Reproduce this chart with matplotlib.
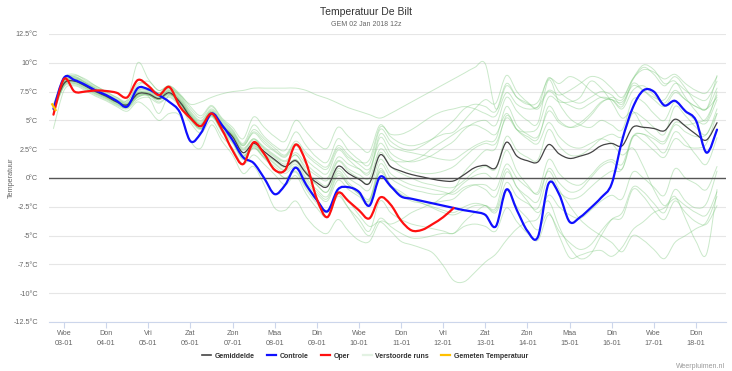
import numpy as np
import matplotlib
matplotlib.use("Agg")
import matplotlib.pyplot as plt
from matplotlib.lines import Line2D
from matplotlib.path import Path
from matplotlib.patches import PathPatch

plt.rcParams['font.family'] = ['Liberation Sans', 'DejaVu Sans']

# tijdas: dagen vanaf 03-01 00z, stappen van 6 uur (02-01 18z t/m 18-01 12z)
tijd = np.arange(-0.25, 15.51, 0.25)

dag_namen = ['Woe', 'Don', 'Vri', 'Zat', 'Zon', 'Maa', 'Din', 'Woe',
             'Don', 'Vri', 'Zat', 'Zon', 'Maa', 'Din', 'Woe', 'Don']
datums = ['03-01', '04-01', '05-01', '06-01', '07-01', '08-01', '09-01', '10-01',
          '11-01', '12-01', '13-01', '14-01', '15-01', '16-01', '17-01', '18-01']

gemiddelde = [6.0, 8.2, 8.4, 8.0, 7.5, 7.1, 6.6, 6.35, 7.3, 7.3, 6.9, 7.4, 6.6, 5.3, 4.5, 5.6,
              4.5, 3.6, 2.2, 3.0, 2.3, 1.6, 1.0, 1.5, 0.4, -0.4, -0.75, 1.0, 0.4, -0.1, -0.45, 2.0,
              1.0, 0.6, 0.3, 0.1, -0.1, -0.25, -0.25, 0.3, 0.9, 1.1, 0.9, 3.1, 1.9, 1.5, 1.4, 2.9,
              2.1, 1.7, 1.9, 2.2, 2.8, 3.0, 2.8, 4.4, 4.4, 4.3, 4.1, 5.1, 4.5, 3.8, 3.3, 4.8]

controle = [6.0, 8.7, 8.5, 8.1, 7.6, 7.2, 6.7, 6.2, 7.8, 7.7, 7.2, 6.6, 5.7, 3.2, 3.9, 5.6,
            4.6, 3.3, 1.8, 1.3, 0.0, -1.4, -0.6, 0.9, -0.6, -1.9, -2.9, -1.0, -0.8, -1.2, -2.4, 0.1,
            -0.7, -1.6, -1.8, -2.0, -2.2, -2.4, -2.6, -2.8, -2.95, -3.2, -4.2, -1.0, -2.8, -4.6, -5.1, -0.5,
            -1.4, -3.8, -3.4, -2.6, -1.7, -0.5, 3.3, 6.1, 7.6, 7.5, 6.3, 6.7, 5.8, 5.0, 2.2, 4.2]

oper = [5.5, 8.6, 7.5, 7.5, 7.6, 7.55, 7.4, 7.0, 8.5, 8.0, 7.2, 7.9, 6.2, 5.2, 4.5, 5.6,
        4.2, 2.4, 1.2, 3.1, 2.1, 0.7, 0.7, 2.9, 1.3, -1.8, -3.4, -1.3, -2.0, -2.8, -3.5, -1.7,
        -2.3, -3.7, -4.55, -4.5, -4.0, -3.4, -2.6] + [np.nan] * 25

gemeten_tijd = [-0.28, -0.2]
gemeten = [6.4, 5.9]

# verstoorde runs (ensembleleden)
leden = [
    [6.2, 8.5, 8.7, 8.3, 7.8, 7.3, 6.8, 6.5, 7.6, 7.8, 7.4, 7.8, 7.2, 6.4, 6.6, 7.0,
     7.3, 7.5, 7.6, 7.8, 7.8, 7.8, 7.8, 7.8, 7.6, 7.2, 6.9, 6.5, 6.1, 5.8, 5.5, 5.2,
     5.6, 6.1, 6.6, 7.1, 7.6, 8.1, 8.6, 9.1, 9.6, 9.9, 6.0, 8.0, 7.0, 6.5, 6.0, 7.5,
     6.8, 6.3, 6.0, 6.5, 7.0, 6.8, 6.0, 7.6, 8.0, 7.2, 6.5, 7.6, 6.8, 6.2, 6.0, 7.0],
    [5.8, 8.0, 8.2, 7.8, 7.3, 6.9, 6.4, 6.1, 7.0, 7.2, 6.6, 7.1, 6.3, 5.0, 4.2, 5.3,
     4.0, 3.0, 1.6, 2.6, 1.8, 0.8, 0.0, 0.6, -0.8, -2.0, -2.8, -1.2, -2.0, -3.2, -4.2, -3.8,
     -4.6, -5.5, -5.8, -6.1, -6.5, -7.6, -8.9, -9.0, -8.2, -7.3, -6.6, -5.4, -4.4, -3.8, -3.5, -1.5,
     -2.5, -3.2, -3.5, -2.8, -2.0, -1.5, -1.8, 0.5, 0.0, -0.8, -1.5, 0.8, 0.0, -0.5, -1.0, 1.0],
    [6.1, 8.3, 8.6, 8.2, 7.7, 7.2, 6.7, 6.4, 7.4, 7.4, 7.0, 7.6, 6.8, 5.5, 4.7, 5.8,
     4.7, 3.8, 2.5, 3.4, 2.5, 1.8, 1.2, 2.0, 0.6, -0.6, -1.2, 0.6, -0.4, -1.2, -1.8, 0.5,
     -0.8, -1.5, -2.0, -2.2, -2.5, -2.8, -3.0, -2.5, -2.2, -2.4, -3.0, -1.0, -2.5, -3.5, -4.5, -3.0,
     -5.0, -6.9, -6.7, -6.4, -6.3, -6.8, -6.0, -4.5, -3.8, -3.0, -2.6, -1.8, -2.4, -3.0, -3.2, -1.2],
    [6.3, 8.6, 8.9, 8.6, 8.0, 7.5, 7.0, 6.8, 10.0, 8.6, 7.6, 8.0, 7.3, 6.2, 5.4, 6.3,
     5.2, 4.4, 3.4, 5.3, 4.4, 3.6, 3.2, 5.0, 4.0, 3.0, 2.6, 4.4, 3.6, 2.8, 2.3, 4.6,
     3.6, 3.0, 2.8, 3.0, 3.4, 3.8, 4.0, 5.0, 6.0, 6.8, 6.5, 8.9, 7.5, 6.6, 6.2, 8.7,
     7.5, 6.8, 6.5, 7.0, 7.5, 7.2, 6.4, 8.5, 9.6, 9.0, 8.0, 8.8, 7.8, 6.5, 6.0, 8.9],
    [5.6, 7.9, 8.1, 7.7, 7.2, 6.8, 6.3, 6.0, 6.8, 7.0, 6.5, 7.0, 6.2, 4.8, 3.9, 5.0,
     3.6, 2.6, 1.2, 2.0, 1.2, 0.3, -0.6, 0.2, -1.4, -2.6, -3.4, -1.6, -2.6, -3.6, -4.6, -2.0,
     -3.0, -3.6, -4.0, -4.2, -4.4, -4.6, -4.8, -3.8, -3.0, -2.4, -2.6, 0.5, -0.8, -1.6, -2.0, 0.8,
     -0.4, -1.2, -1.0, 0.0, 1.0, 1.4, 0.8, 3.5, 3.8, 3.0, 2.2, 4.0, 3.2, 2.0, 1.2, 3.5],
    [6.0, 8.3, 8.6, 8.2, 7.6, 7.2, 6.7, 6.4, 7.6, 7.6, 7.1, 7.7, 6.9, 5.6, 4.8, 5.8,
     4.8, 3.9, 2.8, 3.9, 3.0, 2.3, 1.8, 2.8, 1.6, 0.8, 0.4, 2.4, 1.6, 0.8, 0.4, 3.5,
     2.2, 1.6, 1.4, 1.6, 2.0, 2.6, 3.2, 4.2, 4.8, 5.0, 4.6, 7.0, 5.8, 5.0, 4.8, 8.5,
     6.5, 5.2, 4.6, 4.4, 5.0, 4.6, 4.2, 6.8, 6.6, 5.6, 5.0, 6.6, 5.8, 5.0, 4.8, 6.8],
    [5.9, 8.1, 8.3, 7.9, 7.4, 7.0, 6.5, 6.2, 7.2, 7.2, 6.8, 7.3, 6.5, 5.2, 4.3, 5.4,
     4.2, 3.2, 1.8, 2.7, 1.8, 1.0, 0.4, 1.0, -0.4, -1.4, -2.0, -0.2, -1.0, -1.6, -2.2, 0.6,
     -0.6, -1.4, -1.8, -2.0, -2.2, -1.6, -1.0, 0.5, 1.5, 2.4, 2.6, 5.4, 4.2, 3.6, 3.4, 6.2,
     5.0, 4.4, 4.6, 5.4, 6.5, 7.0, 6.8, 8.6, 9.8, 9.4, 8.2, 8.4, 7.0, 5.8, 5.0, 7.5],
    [6.2, 8.4, 8.7, 8.3, 7.8, 7.3, 6.8, 6.5, 7.4, 7.5, 7.1, 7.5, 6.7, 5.4, 4.6, 5.7,
     4.6, 3.7, 2.4, 3.3, 2.6, 1.9, 1.4, 2.0, 0.9, 0.2, -0.2, 1.5, 0.8, 0.3, 0.0, 2.5,
     1.6, 1.4, 1.5, 1.9, 2.6, 3.2, 3.8, 4.4, 4.6, 4.2, 3.8, 5.6, 4.2, 3.4, 3.0, 4.8,
     3.6, 2.8, 2.6, 3.0, 3.4, 3.0, 2.0, 2.6, 1.0, -1.0, -2.4, -1.6, -3.5, -5.5, -6.6, -1.0],
    [5.7, 8.0, 8.2, 7.8, 7.3, 6.9, 6.4, 6.1, 7.0, 7.1, 5.6, 7.2, 6.4, 5.1, 4.3, 5.4,
     4.1, 3.1, 1.7, 2.6, 1.7, 0.8, 0.0, 0.5, -1.0, -2.2, -3.0, -1.4, -2.6, -4.0, -5.0, -3.5,
     -4.2, -4.8, -5.2, -5.2, -5.0, -4.8, -4.8, -4.2, -4.0, -4.2, -4.6, -2.6, -3.8, -4.8, -5.4, -3.2,
     -4.6, -5.6, -6.2, -5.8, -4.6, -3.6, -3.4, -1.0, -1.6, -2.8, -3.6, -2.0, -3.0, -3.8, -4.0, -2.4],
    [6.1, 8.4, 8.6, 8.1, 7.6, 7.1, 6.6, 6.3, 7.2, 7.4, 7.0, 7.6, 6.8, 5.5, 4.7, 5.7,
     4.6, 3.8, 2.6, 3.4, 2.7, 2.0, 1.5, 2.2, 1.2, 0.4, 0.0, 1.8, 1.2, 0.8, 0.6, 3.8,
     2.8, 2.4, 2.2, 2.0, 1.8, 1.6, 1.6, 2.2, 2.8, 3.2, 3.4, 6.2, 4.6, 3.8, 3.6, 5.8,
     4.8, 4.4, 4.8, 5.6, 6.6, 6.8, 6.2, 8.2, 7.6, 6.8, 6.2, 7.4, 6.8, 6.2, 6.0, 7.8],
    [5.9, 8.2, 8.5, 8.0, 7.5, 7.0, 6.6, 6.3, 7.1, 7.3, 6.8, 7.3, 6.5, 5.2, 4.4, 5.5,
     4.3, 3.3, 1.9, 2.8, 2.0, 1.2, 0.6, 1.2, -0.2, -1.2, -1.8, 0.2, -0.6, -1.4, -2.0, 0.8,
     -0.6, -1.2, -1.8, -2.2, -2.6, -3.0, -3.2, -2.8, -2.4, -2.4, -2.8, -0.4, -1.6, -2.2, -2.6, 0.0,
     -1.2, -1.8, -1.6, -0.8, 0.0, 0.6, 0.8, 3.6, 3.8, 3.4, 3.0, 4.6, 4.0, 3.6, 3.8, 5.6],
    [6.4, 8.7, 9.0, 8.5, 8.0, 7.5, 7.0, 6.7, 8.0, 8.4, 7.6, 8.0, 7.2, 6.0, 5.2, 6.2,
     5.1, 4.2, 3.0, 4.6, 3.6, 2.8, 2.4, 4.0, 2.8, 1.8, 1.4, 3.4, 2.4, 1.6, 1.2, 4.2,
     3.2, 2.6, 2.4, 2.8, 3.4, 4.2, 5.0, 6.0, 6.4, 6.2, 5.8, 8.2, 7.0, 6.4, 6.6, 8.6,
     8.2, 8.8, 8.4, 7.6, 7.0, 6.8, 6.6, 8.0, 7.6, 7.0, 6.8, 8.2, 7.6, 7.0, 6.8, 8.4],
    [4.3, 7.6, 8.0, 7.6, 7.1, 6.7, 6.2, 5.8, 6.6, 6.0, 5.0, 5.6, 5.4, 3.2, 2.6, 4.6,
     3.2, 2.0, 0.4, 1.0, -0.6, -2.6, -2.8, -2.0, -3.4, -4.4, -4.8, -3.6, -4.6, -5.4, -5.5, -3.8,
     -4.0, -3.6, -3.0, -2.6, -2.2, -2.0, -1.8, -1.0, -0.6, -0.6, -1.0, 1.2, 0.0, -0.8, -1.2, 1.6,
     0.4, -0.4, -0.6, 0.2, 1.2, 1.6, 1.2, 3.6, 3.2, 2.4, 1.8, 3.4, 2.8, 2.6, 3.0, 5.6],
    [6.0, 8.3, 8.5, 8.1, 7.6, 7.1, 6.7, 6.4, 7.3, 7.4, 6.9, 7.5, 6.7, 5.4, 4.6, 5.6,
     4.5, 3.6, 2.2, 3.1, 2.3, 1.5, 0.9, 1.6, 0.3, -0.6, -1.2, 0.8, 0.0, -0.6, -1.0, 1.6,
     0.4, -0.2, -0.6, -0.8, -1.0, -1.2, -1.4, -0.8, -0.6, -1.0, -1.6, 0.8, -0.8, -2.0, -3.0, -2.0,
     -4.2, -6.0, -7.0, -6.6, -5.0, -3.6, -3.0, -0.8, -1.2, -2.2, -3.0, -1.0, -2.0, -2.6, -2.2, 0.6],
    [6.1, 8.5, 8.8, 8.3, 7.7, 7.2, 6.7, 6.4, 7.5, 7.6, 7.2, 7.8, 7.0, 5.7, 4.9, 5.9,
     4.9, 4.0, 2.9, 4.2, 3.4, 2.6, 2.0, 3.2, 2.2, 1.4, 1.0, 2.8, 2.0, 1.2, 0.8, 3.0,
     1.8, 1.0, 0.6, 0.4, 0.4, 0.6, 1.0, 1.8, 2.6, 3.0, 3.0, 5.2, 4.2, 4.0, 4.4, 7.0,
     6.6, 6.6, 7.0, 8.4, 7.8, 6.6, 5.2, 5.8, 4.4, 3.6, 3.2, 4.8, 4.6, 4.8, 5.2, 7.2],
    [5.8, 8.1, 8.3, 7.9, 7.4, 7.0, 6.5, 6.2, 7.1, 7.2, 6.8, 7.3, 6.5, 5.1, 4.3, 5.4,
     4.2, 3.3, 1.9, 2.9, 2.1, 1.3, 0.7, 1.4, 0.0, -1.0, -1.6, 0.4, -0.6, -1.4, -1.9, 1.2,
     0.0, -0.6, -1.0, -1.2, -1.4, -1.4, -1.2, -0.4, 0.2, 0.4, 0.0, 2.4, 0.6, -0.6, -1.4, 0.6,
     -1.0, -2.4, -3.6, -4.4, -5.0, -5.6, -6.4, -5.0, -5.4, -6.2, -7.0, -5.6, -5.0, -4.4, -3.8, -1.6],
    [6.0, 8.2, 8.4, 8.0, 7.5, 7.1, 6.6, 6.3, 7.4, 7.2, 6.8, 7.2, 6.5, 5.3, 4.5, 5.5,
     4.4, 3.5, 2.0, 2.8, 2.1, 1.5, 1.0, 1.6, 0.5, -0.2, -0.6, 1.4, 0.6, 0.0, -0.4, 2.2,
     1.0, 0.4, 0.0, -0.4, -0.6, -0.8, -0.8, -0.2, 0.6, 1.0, 0.8, 3.6, 2.4, 1.8, 1.6, 4.2,
     2.8, 2.0, 2.0, 2.6, 3.4, 3.8, 3.6, 5.6, 5.2, 4.4, 3.8, 6.2, 5.4, 4.4, 3.8, 6.0],
    [6.2, 8.6, 8.8, 8.4, 7.9, 7.4, 6.9, 6.6, 8.2, 8.0, 7.4, 7.9, 7.1, 5.8, 5.0, 6.0,
     5.0, 4.1, 2.8, 4.0, 3.2, 2.4, 1.9, 3.0, 2.0, 1.2, 0.8, 2.6, 1.8, 1.4, 1.6, 4.4,
     3.8, 3.8, 4.2, 4.8, 5.4, 5.8, 6.0, 6.2, 6.0, 5.6, 5.4, 7.4, 6.4, 6.0, 6.2, 7.6,
     7.2, 7.6, 8.2, 8.8, 8.6, 7.8, 7.0, 8.6, 9.4, 9.2, 8.6, 9.0, 8.2, 7.6, 7.4, 8.8],
]


def spline(ax, x, y, **kw):
    # vloeiende lijn (zoals een Highcharts spline) door de meetpunten
    x = np.asarray(x, float)
    y = np.asarray(y, float)
    ok = ~np.isnan(y)
    x, y = x[ok], y[ok]
    pts = np.column_stack([x, y])
    n = len(pts)
    verts = [pts[0]]
    codes = [Path.MOVETO]
    for i in range(n - 1):
        p0 = pts[max(i - 1, 0)]
        p1 = pts[i]
        p2 = pts[i + 1]
        p3 = pts[min(i + 2, n - 1)]
        verts += [p1 + (p2 - p0) / 6.0, p2 - (p3 - p1) / 6.0, p2]
        codes += [Path.CURVE4] * 3
    ax.add_patch(PathPatch(Path(verts, codes), fill=False, capstyle='round',
                           joinstyle='round', **kw))


fig = plt.figure(figsize=(7.32, 3.71), dpi=100)
ax = fig.add_axes([49 / 732, 1 - 322 / 371, 677 / 732, 288 / 371])

for lid in leden:
    spline(ax, tijd, lid, edgecolor='#7cc87c', lw=0.7, alpha=0.4, zorder=2)

ax.axhline(0, color='#555555', lw=1.0, zorder=3)
spline(ax, tijd, gemiddelde, edgecolor='#444444', lw=0.9, zorder=4)
spline(ax, tijd, controle, edgecolor='#1010ff', lw=1.6, zorder=5)
spline(ax, tijd, oper, edgecolor='#ff1010', lw=1.6, zorder=6)
ax.plot(gemeten_tijd, gemeten, color='#ffc000', lw=1.6, zorder=7)

ax.set_xlim(-0.356, 15.713)
ax.set_ylim(-12.5, 12.5)

yt = np.arange(-12.5, 12.6, 2.5)
ax.set_yticks(yt)
ax.set_yticklabels([('%g' % v) + '°C' for v in yt], fontsize=5.2, color='#666666')
ax.tick_params(axis='y', length=0, pad=8)
for v in yt:
    if v != 0:
        ax.axhline(v, color='#e6e6e6', lw=0.8, zorder=1)

ax.set_xticks(range(len(datums)))
ax.set_xticklabels([d + '\n' + n for d, n in zip(dag_namen, datums)],
                   fontsize=5.2, color='#666666', linespacing=1.5)
ax.tick_params(axis='x', length=4, width=0.8, color='#ccd6eb', pad=2)

for s in ['top', 'right', 'left']:
    ax.spines[s].set_visible(False)
ax.spines['bottom'].set_color('#ccd6eb')
ax.spines['bottom'].set_linewidth(0.8)

ax.set_ylabel('Temperatuur', fontsize=5.2, color='#666666')
ax.yaxis.set_label_coords(-0.05, 0.5)

fig.text(0.5, 1 - 12 / 371, 'Temperatuur De Bilt', ha='center', va='center',
         fontsize=7.5, color='#333333')
fig.text(0.5, 1 - 24 / 371, 'GEM 02 Jan 2018 12z', ha='center', va='center',
         fontsize=5, color='#666666')
fig.text(725 / 732, 1 - 366 / 371, 'Weerpluimen.nl', ha='right', va='center',
         fontsize=5, color='#999999')

handles = [Line2D([], [], color='#444444', lw=1.2),
           Line2D([], [], color='#1010ff', lw=1.6),
           Line2D([], [], color='#ff1010', lw=1.6),
           Line2D([], [], color='#e3f2e3', lw=1.6),
           Line2D([], [], color='#ffc000', lw=1.6)]
labels = ['Gemiddelde', 'Controle', 'Oper', 'Verstoorde runs', 'Gemeten Temperatuur']
leg = fig.legend(handles, labels, loc='center', bbox_to_anchor=(0.499, 1 - 356 / 371),
                 ncol=5, frameon=False, handlelength=1.3, handletextpad=0.5,
                 columnspacing=1.8, prop={'size': 5, 'weight': 'bold'})
for t in leg.get_texts():
    t.set_color('#333333')

fig.savefig('out.png', dpi=100)
